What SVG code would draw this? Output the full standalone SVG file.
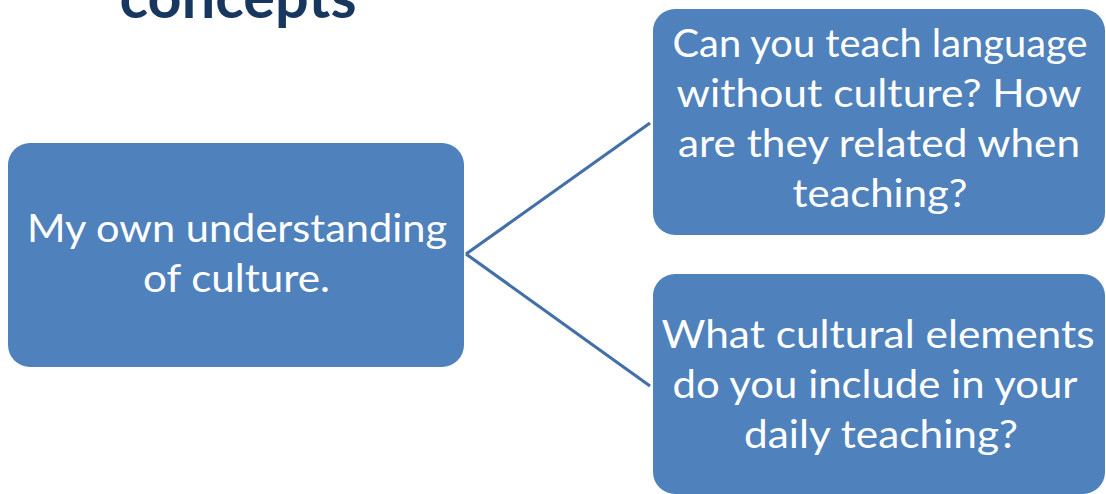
<svg xmlns="http://www.w3.org/2000/svg" width="1106" height="494" viewBox="0 0 1106 494">
  <style>
    .box { fill: #4F81BD; }
    .label { font-family: Lato, "Open Sans", sans-serif; font-size: 39px; fill: #FFFFFF; text-anchor: middle; }
    .title { font-family: Lato, "Open Sans", sans-serif; font-size: 60px; font-weight: bold; fill: #17375E; text-anchor: middle; }
    .link { stroke: #4470A8; stroke-width: 3.2; fill: none; }
  </style>
  <rect width="1106" height="494" fill="#FFFFFF"/>

  <text class="title" x="238" y="18" textLength="237" lengthAdjust="spacingAndGlyphs">concepts</text>

  <g id="connectors">
    <line class="link" x1="466" y1="254" x2="650" y2="123"/>
    <line class="link" x1="466" y1="254" x2="650" y2="386"/>
  </g>

  <g id="node-understanding">
    <rect class="box" x="8" y="143" width="456" height="224" rx="22"/>
    <text class="label" x="237" y="242" textLength="420" lengthAdjust="spacingAndGlyphs">My own understanding</text>
    <text class="label" x="236.5" y="292" textLength="187" lengthAdjust="spacingAndGlyphs">of culture.</text>
  </g>

  <g id="node-language">
    <rect class="box" x="653" y="9" width="452" height="226" rx="22"/>
    <text class="label" x="880" y="57" textLength="415" lengthAdjust="spacingAndGlyphs">Can you teach language</text>
    <text class="label" x="879" y="107" textLength="405" lengthAdjust="spacingAndGlyphs">without culture?  How</text>
    <text class="label" x="879" y="157" textLength="402" lengthAdjust="spacingAndGlyphs">are they related when</text>
    <text class="label" x="880" y="207" textLength="175" lengthAdjust="spacingAndGlyphs">teaching?</text>
  </g>

  <g id="node-elements">
    <rect class="box" x="653" y="274" width="452" height="220" rx="22"/>
    <text class="label" x="878" y="348" textLength="433" lengthAdjust="spacingAndGlyphs">What cultural elements</text>
    <text class="label" x="875" y="398" textLength="405" lengthAdjust="spacingAndGlyphs">do you include in your</text>
    <text class="label" x="881" y="448" textLength="274" lengthAdjust="spacingAndGlyphs">daily teaching?</text>
  </g>
</svg>
